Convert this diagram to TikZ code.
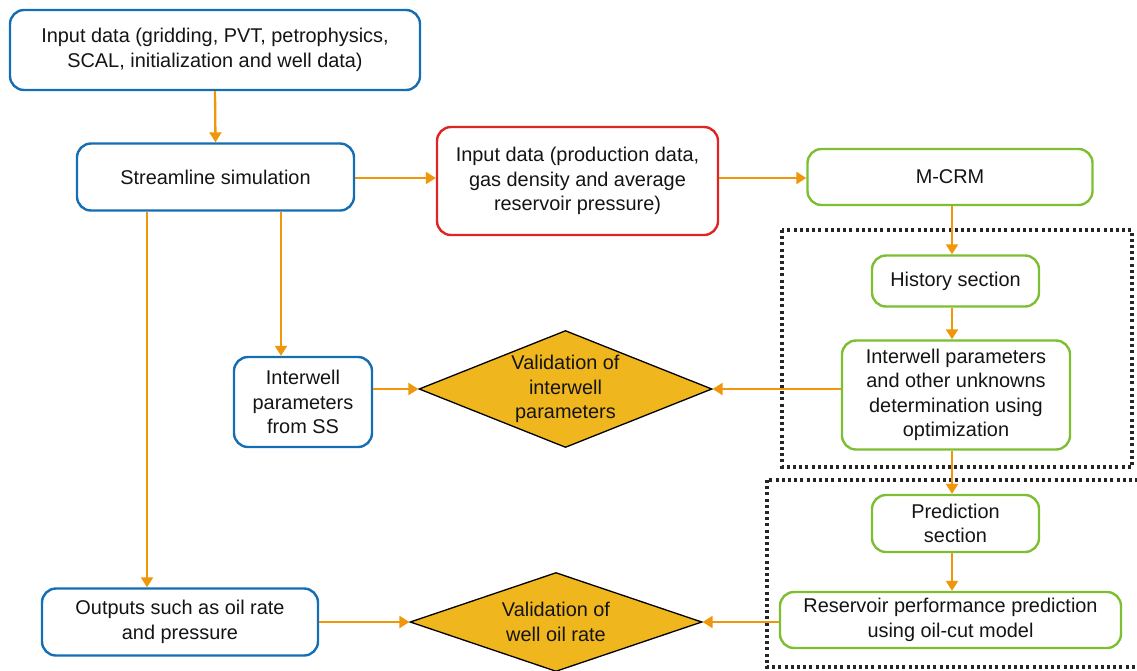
\documentclass[tikz,border=0pt]{standalone}
\usepackage{fontspec}
\setmainfont{Liberation Sans}
\usetikzlibrary{arrows.meta,shapes.geometric}
\definecolor{cblue}{RGB}{20,110,180}
\definecolor{cred}{RGB}{222,36,36}
\definecolor{cgreen}{RGB}{125,190,50}
\definecolor{corange}{RGB}{240,150,10}
\definecolor{cgold}{RGB}{240,182,30}
\definecolor{ctext}{RGB}{20,20,20}
\tikzset{
  box/.style={draw, rounded corners=14pt, line width=2.4pt, align=center, inner sep=0pt,
    text=ctext, font=\fontsize{19.9}{24.5}\selectfont},
  bluebox/.style={box, draw=cblue},
  redbox/.style={box, draw=cred},
  greenbox/.style={box, draw=cgreen},
  dia/.style={diamond, draw=black, line width=1.3pt, fill=cgold, aspect=2.5, inner sep=0pt,
    align=center, text=ctext, font=\fontsize{19.9}{24.5}\selectfont},
  arr/.style={draw=corange, line width=2.3pt, -{Triangle[length=10pt,width=12pt]}},
  dotbox/.style={draw=black!85, line width=3.2pt, dash pattern=on 3pt off 3.2pt}
}
\begin{document}
\begin{tikzpicture}[x=1pt,y=-1pt]
\useasboundingbox (0,0) rectangle (1137,670);
% dotted groups
\draw[dotbox] (782,230) rectangle (1132,467);
\draw[dotbox] (767,480) rectangle (1150,667);
% nodes
\node[bluebox, minimum width=410, minimum height=80] (in) at (215,50)
  {Input data (gridding, PVT, petrophysics,\\SCAL, initialization and well data)};
\node[bluebox, minimum width=277, minimum height=67] (ss) at (215.5,177) {Streamline simulation};
\node[redbox, minimum width=281, minimum height=108] (red) at (577.5,181)
  {Input data (production data,\\gas density and average\\reservoir pressure)};
\node[greenbox, minimum width=285, minimum height=56] (mcrm) at (950,177) {M-CRM};
\node[greenbox, minimum width=167, minimum height=51] (hist) at (955.5,281) {History section};
\node[greenbox, minimum width=228, minimum height=109] (ip) at (956,395)
  {Interwell parameters\\and other unknowns\\determination using\\optimization};
\node[greenbox, minimum width=167, minimum height=57] (pred) at (955.5,523.5) {Prediction\\section};
\node[greenbox, minimum width=341, minimum height=56] (res) at (950.5,620) {Reservoir performance prediction\\using oil-cut model};
\node[bluebox, minimum width=138, minimum height=90] (iss) at (303,402) {Interwell\\parameters\\from SS};
\node[dia, minimum width=293, minimum height=117] (d1) at (565.5,389) {Validation of\\interwell\\parameters};
\node[bluebox, minimum width=276, minimum height=67] (out) at (180,622) {Outputs such as oil rate\\and pressure};
\node[dia, minimum width=292, minimum height=99] (d2) at (556,622) {Validation of\\well oil rate};
% helper coordinates
\coordinate (cx1) at (147,0);
\coordinate (cx2) at (281,0);
\coordinate (cx3) at (952,0);
\coordinate (cy1) at (0,178);
% connectors
\draw[arr] (in.south) -- (ss.north);
\draw[arr] (ss.east |- cy1) -- (red.west |- cy1);
\draw[arr] (red.east |- cy1) -- (mcrm.west |- cy1);
\draw[arr] (mcrm.south -| cx3) -- (hist.north -| cx3);
\draw[arr] (hist.south -| cx3) -- (ip.north -| cx3);
\draw[arr] (ip.south -| cx3) -- (pred.north -| cx3);
\draw[arr] (pred.south -| cx3) -- (res.north -| cx3);
\draw[arr] (ss.south -| cx1) -- (out.north -| cx1);
\draw[arr] (ss.south -| cx2) -- (iss.north -| cx2);
\draw[arr] (iss.east |- d1.west) -- (d1.west);
\draw[arr] (ip.west |- d1.east) -- (d1.east);
\draw[arr] (out.east |- d2.west) -- (d2.west);
\draw[arr] (res.west |- d2.east) -- (d2.east);
\end{tikzpicture}
\end{document}
